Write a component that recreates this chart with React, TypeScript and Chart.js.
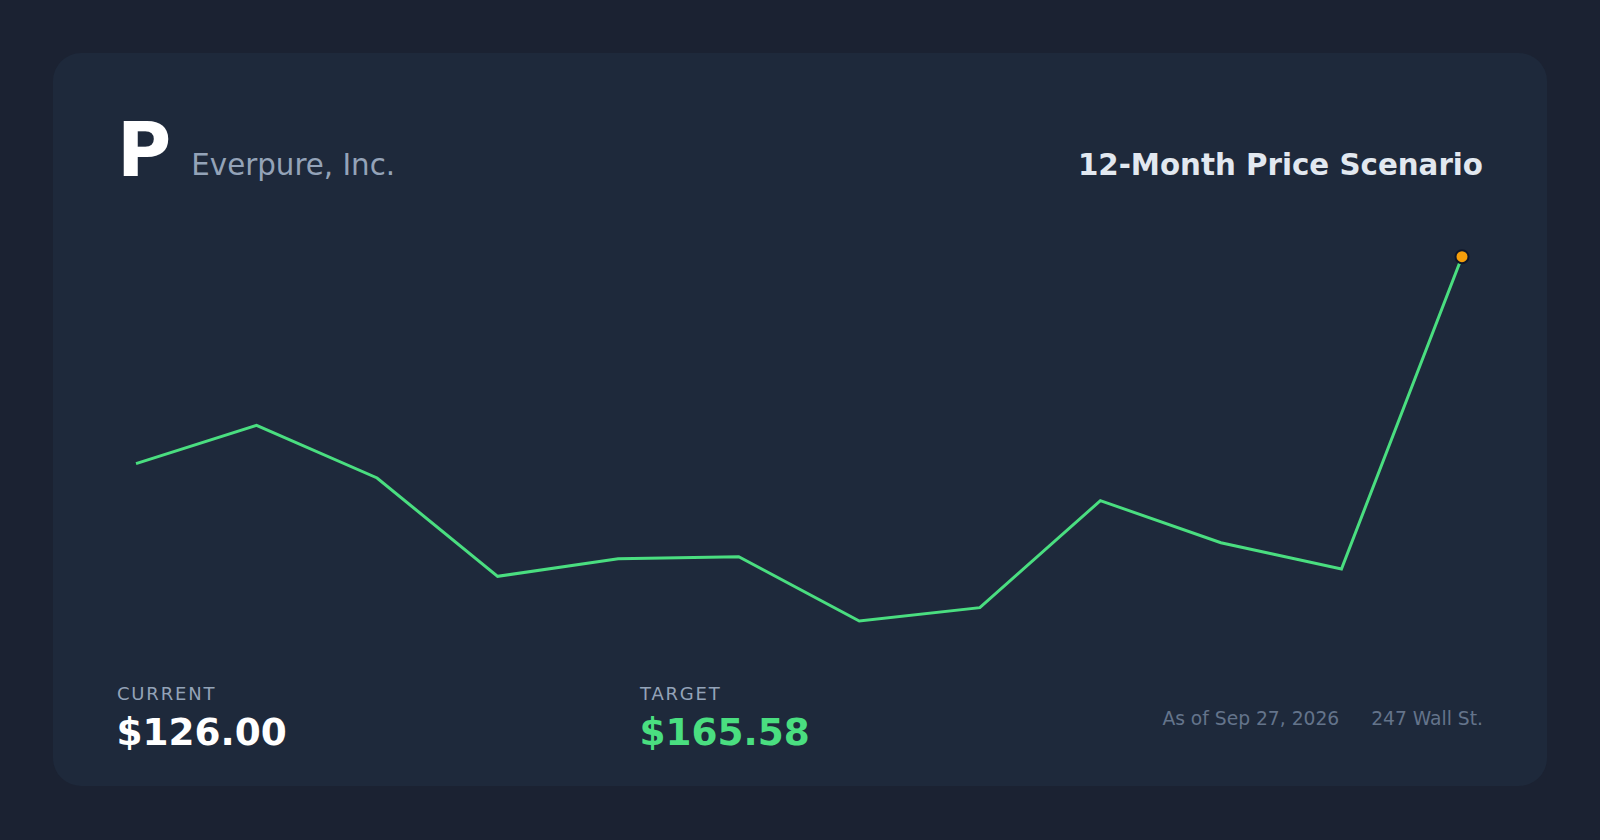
import React, { useEffect, useRef } from "react";
import { Chart, registerables } from "chart.js";

Chart.register(...registerables);

const months = ["Sep", "Oct", "Nov", "Dec", "Jan", "Feb", "Mar", "Apr", "May", "Jun", "Jul", "Aug"];
const prices = [126.0, 133.34, 123.27, 104.47, 107.83, 108.22, 95.92, 98.47, 118.93, 110.89, 105.87, 165.58];
const yRange = [92.29, 168.77];

const ticker = "P";
const company = "Everpure, Inc.";
const title = "12-Month Price Scenario";
const currentLabel = "CURRENT";
const currentValue = "$126.00";
const targetLabel = "TARGET";
const targetValue = "$165.58";
const asOf = "As of Sep 27, 2026";
const source = "247 Wall St.";

const FONT = "'DejaVu Sans', sans-serif";

export default function App() {
  const ref = useRef<HTMLCanvasElement | null>(null);

  useEffect(() => {
    if (!ref.current) return;
    const n = prices.length;
    const chart = new Chart(ref.current, {
      type: "line",
      data: {
        labels: months,
        datasets: [
          {
            data: prices,
            borderColor: "#4ade80",
            borderWidth: 3,
            tension: 0,
            fill: false,
            clip: false as any,
            pointRadius: prices.map((_, i) => (i === n - 1 ? 6.5 : 0)),
            pointBackgroundColor: "#f59e0b",
            pointBorderColor: "#0f172a",
            pointBorderWidth: 2,
            pointHoverRadius: prices.map((_, i) => (i === n - 1 ? 6.5 : 0)),
          },
        ],
      },
      options: {
        animation: false,
        responsive: false,
        devicePixelRatio: 1,
        layout: { padding: 10 },
        plugins: { legend: { display: false }, tooltip: { enabled: false } },
        scales: {
          x: { display: false, offset: false },
          y: { display: false, min: yRange[0], max: yRange[1] },
        },
      },
    });
    return () => chart.destroy();
  }, []);

  const abs = (s: React.CSSProperties): React.CSSProperties => ({
    position: "absolute",
    lineHeight: 1,
    whiteSpace: "nowrap",
    fontFamily: FONT,
    ...s,
  });

  return (
    <div style={{ position: "fixed", inset: 0, background: "#1b2232", fontFamily: FONT }}>
      <div
        style={{
          position: "absolute",
          left: 53,
          top: 53,
          width: 1494,
          height: 733,
          background: "#1e293b",
          borderRadius: 28,
        }}
      />
      <div style={abs({ left: 117, top: 112.5, fontSize: 74, fontWeight: 700, color: "#ffffff" })}>{ticker}</div>
      <div style={abs({ left: 191.3, top: 150.5, fontSize: 29.3, color: "#94a3b8" })}>{company}</div>
      <div style={abs({ right: 1600 - 1483, top: 150.8, fontSize: 29.3, fontWeight: 700, color: "#e2e8f0" })}>{title}</div>

      <canvas
        ref={ref}
        width={1346}
        height={420}
        style={{ position: "absolute", left: 126, top: 230, width: 1346, height: 420 }}
      />

      <div style={abs({ left: 117, top: 684.5, fontSize: 18, letterSpacing: 1.8, color: "#94a3b8" })}>{currentLabel}</div>
      <div style={abs({ left: 116.5, top: 714, fontSize: 37.4, fontWeight: 700, color: "#ffffff" })}>{currentValue}</div>
      <div style={abs({ left: 640, top: 684.5, fontSize: 18, letterSpacing: 1.8, color: "#94a3b8" })}>{targetLabel}</div>
      <div style={abs({ left: 639.5, top: 714, fontSize: 37.4, fontWeight: 700, color: "#4ade80" })}>{targetValue}</div>

      <div
        style={abs({
          right: 1600 - 1483,
          top: 709.5,
          fontSize: 18.7,
          color: "#64748b",
          display: "flex",
          gap: 32,
        })}
      >
        <span>{asOf}</span>
        <span>{source}</span>
      </div>
    </div>
  );
}
